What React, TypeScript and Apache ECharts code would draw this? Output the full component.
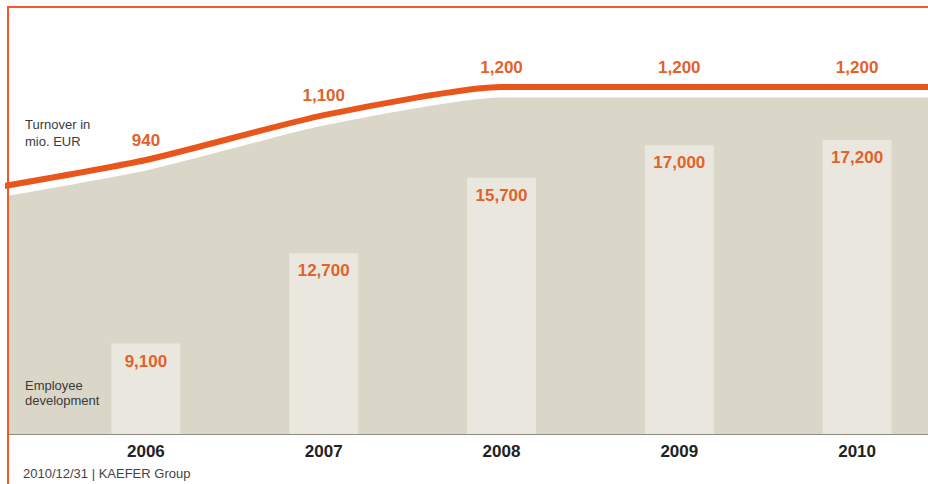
import React, { useEffect, useRef } from "react";
import * as echarts from "echarts";

const categories = ["2006", "2007", "2008", "2009", "2010"];
const employees = [9100, 12700, 15700, 17000, 17200];
const turnoverYears = [2006, 2007, 2008, 2009, 2010];
const turnover = [940, 1100, 1200, 1200, 1200];
// line continues past the plotted years to the chart edges (unlabelled)
const edgeYears = [2005, 2011];
const edgeTurnover = [825, 1200];

const FONT = '"Liberation Sans", Arial, Helvetica, sans-serif';
const ORANGE = "#e8561c";
const LABEL_ORANGE = "#e2622b";

export default function App() {
  const ref = useRef<HTMLDivElement>(null);

  useEffect(() => {
    if (!ref.current) return;
    const chart = echarts.init(ref.current, undefined, { renderer: "svg" });

    const lineData: any[] = [
      { value: [edgeYears[0], edgeTurnover[0]], label: { show: false } },
      ...turnoverYears.map((y, i) => ({ value: [y, turnover[i]] })),
      { value: [edgeYears[1], edgeTurnover[1]], label: { show: false } },
    ];
    const areaData = lineData.map((d) => ({ value: d.value }));

    const fmt = (v: number) => v.toLocaleString("en-US");

    chart.setOption({
      animation: false,
      backgroundColor: "#ffffff",
      textStyle: { fontFamily: FONT },
      grid: [
        { left: 57, width: 889, top: 7, bottom: 50, outerBoundsMode: "none", containLabel: false },
        { left: 8, right: 0, top: 7, bottom: 50, outerBoundsMode: "none", containLabel: false },
      ],
      xAxis: [
        {
          type: "category",
          gridIndex: 0,
          data: categories,
          axisLine: { show: false, onZero: false },
          axisTick: { show: false },
          splitLine: { show: false },
          axisLabel: {
            margin: 9,
            color: "#222222",
            fontSize: 17,
            fontWeight: "bold",
            fontFamily: FONT,
          },
        },
        {
          type: "value",
          gridIndex: 1,
          min: 2005.224,
          max: 2010.399,
          axisLine: { show: true, onZero: false, lineStyle: { color: "#8f8c82", width: 1 } },
          axisTick: { show: false },
          axisLabel: { show: false },
          splitLine: { show: false },
        },
      ],
      yAxis: [
        { type: "value", gridIndex: 0, min: 5500, max: 22500, show: false, splitLine: { show: false } },
        { type: "value", gridIndex: 1, min: -36, max: 1485, show: false, splitLine: { show: false } },
        { type: "value", gridIndex: 1, min: 1, max: 1522, show: false, splitLine: { show: false } },
      ],
      series: [
        {
          type: "line",
          name: "area",
          xAxisIndex: 1,
          yAxisIndex: 2,
          data: areaData,
          smooth: 0.2,
          showSymbol: false,
          symbol: "none",
          lineStyle: { width: 0 },
          areaStyle: { color: "#dad6c8", opacity: 1, origin: "start" },
          z: 1,
          silent: true,
        },
        {
          type: "bar",
          name: "Employee development",
          xAxisIndex: 0,
          yAxisIndex: 0,
          data: employees,
          barWidth: 69,
          itemStyle: { color: "#eae7de" },
          label: {
            show: true,
            position: "insideTop",
            distance: 9,
            color: LABEL_ORANGE,
            fontSize: 17,
            fontWeight: "bold",
            fontFamily: FONT,
            formatter: (p: any) => fmt(p.value),
          },
          z: 2,
        },
        {
          type: "line",
          name: "Turnover in mio. EUR",
          xAxisIndex: 1,
          yAxisIndex: 1,
          data: lineData,
          smooth: 0.2,
          showSymbol: true,
          showAllSymbol: true,
          symbol: "circle",
          symbolSize: 1,
          itemStyle: { color: ORANGE },
          lineStyle: { color: ORANGE, width: 6 },
          label: {
            show: true,
            position: "top",
            distance: 11,
            color: LABEL_ORANGE,
            fontSize: 17,
            fontWeight: "bold",
            fontFamily: FONT,
            formatter: (p: any) => fmt(p.value[1]),
          },
          z: 3,
        },
      ],
      graphic: [
        { type: "rect", z: 20, shape: { x: 7, y: 6, width: 2, height: 478 }, style: { fill: "#ef5b23" } },
        { type: "rect", z: 20, shape: { x: 7, y: 6, width: 921, height: 2 }, style: { fill: "#ef5b23" } },
        {
          type: "text",
          z: 20,
          x: 25,
          y: 115.5,
          style: {
            text: "Turnover in\nmio. EUR",
            fontSize: 13,
            fontFamily: FONT,
            fill: "#3a3a3a",
            lineHeight: 17,
            verticalAlign: "top",
          },
        },
        {
          type: "text",
          z: 20,
          x: 25,
          y: 377.5,
          style: {
            text: "Employee\ndevelopment",
            fontSize: 13,
            fontFamily: FONT,
            fill: "#3a3a3a",
            lineHeight: 15,
            verticalAlign: "top",
          },
        },
        {
          type: "text",
          z: 20,
          x: 23,
          y: 473,
          style: {
            text: "2010/12/31 | KAEFER Group",
            fontSize: 13,
            fontFamily: FONT,
            fill: "#444444",
            verticalAlign: "middle",
          },
        },
      ],
    });

    return () => chart.dispose();
  }, []);

  return (
    <div
      ref={ref}
      style={{ position: "fixed", left: 0, top: 0, width: 928, height: 484 }}
    />
  );
}
